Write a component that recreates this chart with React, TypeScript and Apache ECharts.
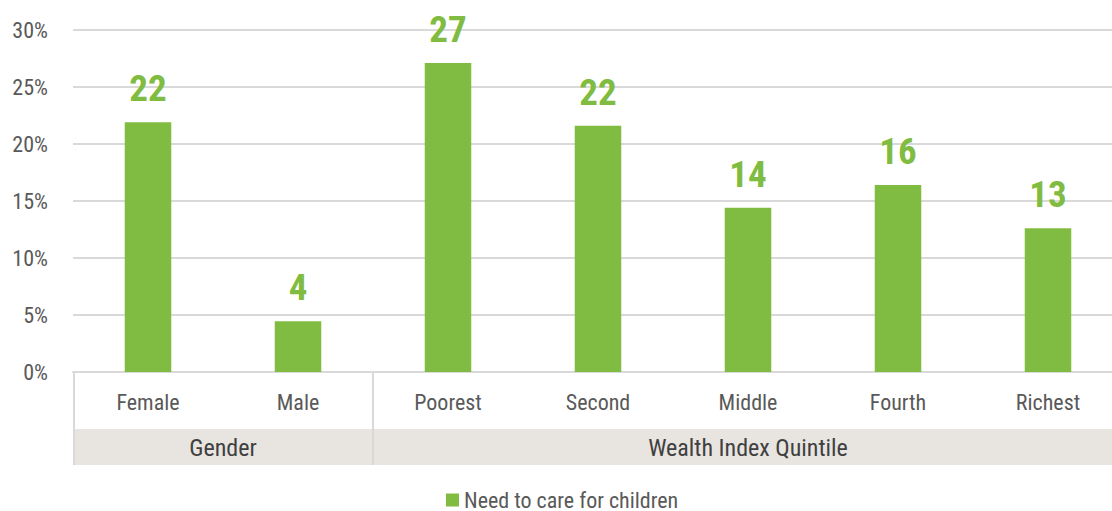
import React, { useEffect, useRef } from "react";
import * as echarts from "echarts";

const categories = ["Female", "Male", "Poorest", "Second", "Middle", "Fourth", "Richest"];
const values = [21.9, 4.45, 27.1, 21.6, 14.4, 16.4, 12.6];
const valueLabels = ["22", "4", "27", "22", "14", "16", "13"];
const groups = [
  { name: "Gender", start: 0, end: 1 },
  { name: "Wealth Index Quintile", start: 2, end: 6 },
];
const yTicks = [0, 5, 10, 15, 20, 25, 30];
const seriesName = "Need to care for children";

const FONT = "'Liberation Sans Narrow', 'Roboto Condensed', 'Roboto', sans-serif";
const GREEN = "#80BC41";
const GREY = "#595959";

export default function App() {
  const ref = useRef<HTMLDivElement>(null);
  useEffect(() => {
    if (!ref.current) return;
    const chart = echarts.init(ref.current, null, { renderer: "svg" });
    chart.setOption({
      animation: false,
      grid: {
        left: 73,
        width: 1050,
        top: 30,
        bottom: 139,
        containLabel: false,
        outerBoundsMode: "none",
      },
      legend: {
        bottom: 0,
        left: 441,
        itemWidth: 13,
        itemHeight: 13,
        icon: "rect",
        padding: [5, 5, 0, 5],
        textStyle: { fontFamily: FONT, fontSize: 22, color: GREY, lineHeight: 18 },
        data: [seriesName],
      },
      xAxis: {
        type: "category",
        data: categories,
        axisLine: { lineStyle: { color: "#D9D9D9", width: 2 } },
        axisTick: { show: false },
        axisLabel: { fontFamily: FONT, fontSize: 22, color: GREY, margin: 19 },
      },
      yAxis: {
        type: "value",
        min: yTicks[0],
        max: yTicks[yTicks.length - 1],
        interval: 5,
        axisLabel: {
          formatter: "{value}%",
          fontFamily: FONT,
          fontSize: 22,
          color: GREY,
          margin: 25,
        },
        splitLine: { lineStyle: { color: "#D9D9D9", width: 2 } },
        axisLine: { show: false },
        axisTick: { show: false },
      },
      series: [
        {
          name: seriesName,
          type: "bar",
          data: values,
          barWidth: "31%",
          itemStyle: { color: GREEN },
          label: {
            show: true,
            position: "top",
            distance: 15,
            formatter: (p: any) => valueLabels[p.dataIndex],
            fontFamily: FONT,
            fontWeight: "bold",
            fontSize: 37,
            color: GREEN,
          },
        },
      ],
    });

    const x0 = chart.convertToPixel({ xAxisIndex: 0 }, 0) as number;
    const x1 = chart.convertToPixel({ xAxisIndex: 0 }, 1) as number;
    const band = x1 - x0;
    const axisY = chart.convertToPixel({ yAxisIndex: 0 }, 0) as number;
    const bandTop = axisY + 57;
    const bandBottom = axisY + 93;
    const graphics: any[] = [];
    groups.forEach((g) => {
      const left = x0 + (g.start - 0.5) * band;
      const right = x0 + (g.end + 0.5) * band;
      graphics.push({
        type: "rect",
        shape: { x: left, y: bandTop, width: right - left, height: bandBottom - bandTop },
        style: { fill: "#E8E5E1" },
        silent: true,
      });
      graphics.push({
        type: "text",
        x: (left + right) / 2,
        y: (bandTop + bandBottom) / 2 + 1,
        style: {
          text: g.name,
          fontFamily: FONT,
          fontSize: 24,
          fill: "#404040",
          align: "center",
          verticalAlign: "middle",
        },
        silent: true,
      });
    });
    groups.forEach((g, i) => {
      const left = x0 + (g.start - 0.5) * band;
      graphics.push({
        type: "line",
        shape: { x1: left + (i === 0 ? 1 : 0), y1: axisY, x2: left + (i === 0 ? 1 : 0), y2: bandBottom },
        style: { stroke: "#D9D9D9", lineWidth: 2 },
        silent: true,
      });
    });
    chart.setOption({ graphic: graphics });

    return () => chart.dispose();
  }, []);
  return <div ref={ref} style={{ width: 1112, height: 511, position: "absolute", left: 0, top: 0 }} />;
}
